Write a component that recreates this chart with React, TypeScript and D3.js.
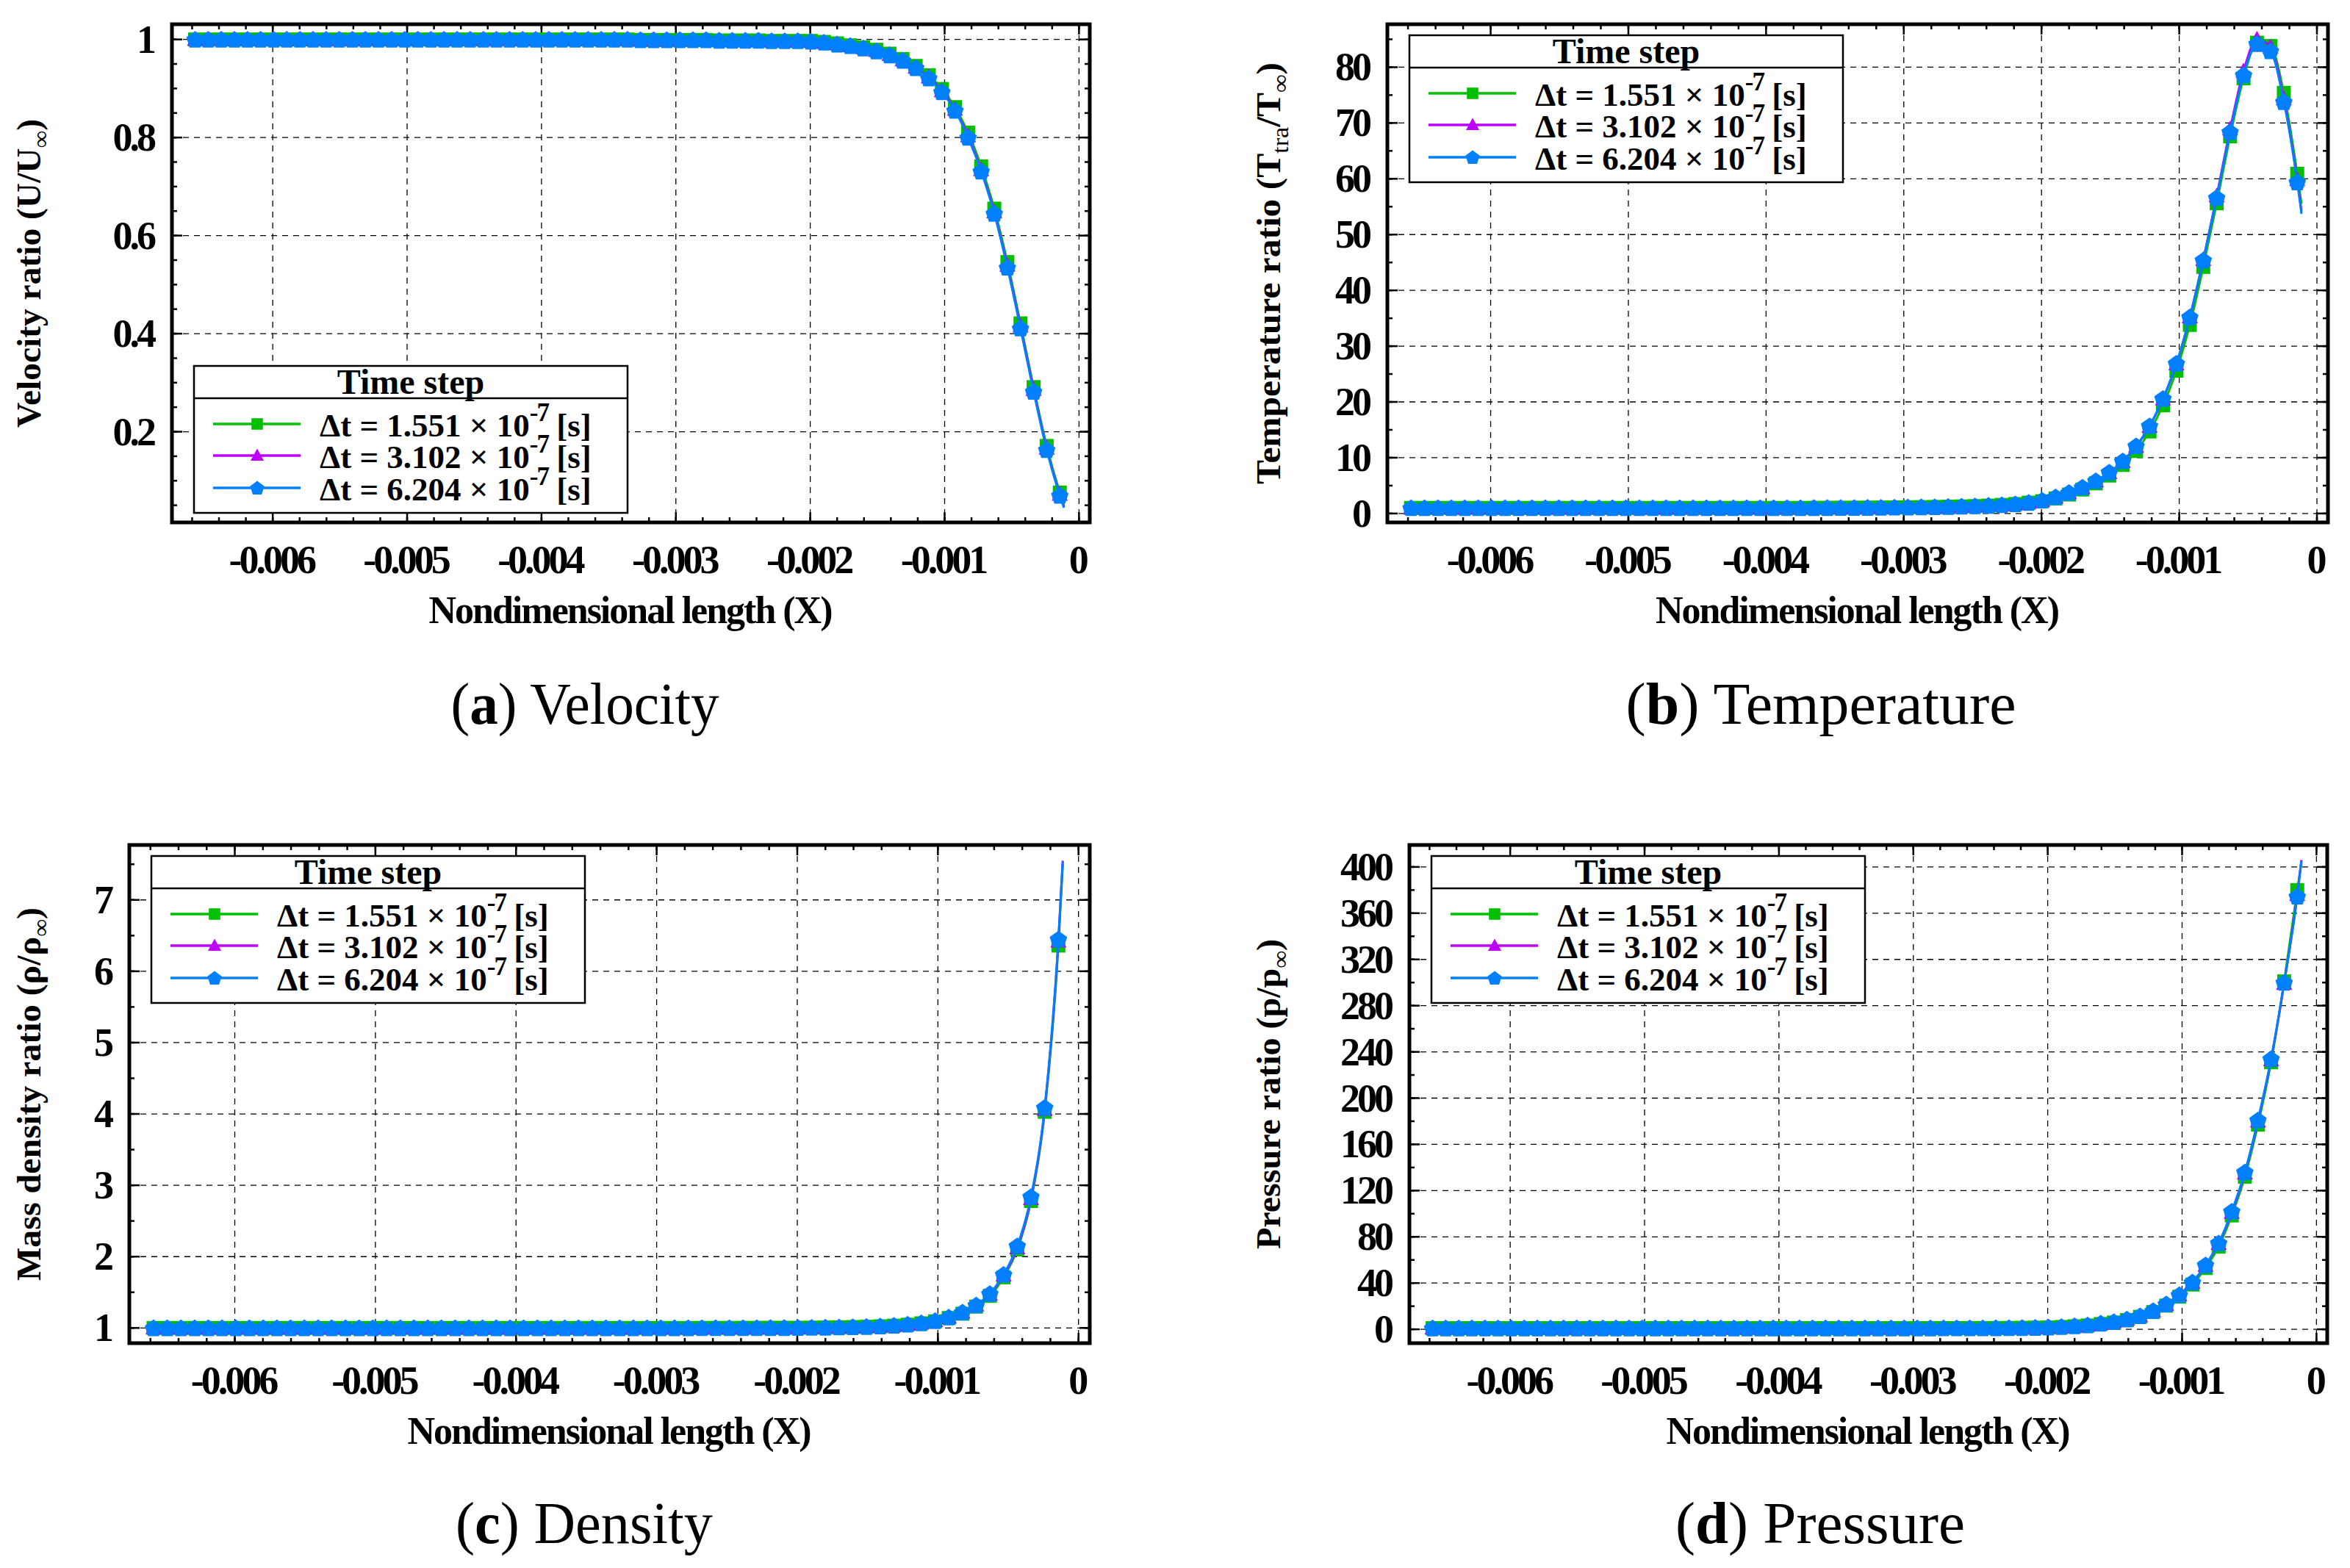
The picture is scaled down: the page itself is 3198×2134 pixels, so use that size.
import * as d3 from "d3";

// x positions of the plotted points (every marker), plus where the line ends
const xGrid = [
  -0.006578, -0.0064805, -0.006383, -0.0062855, -0.006188, -0.0060905, -0.005993, -0.0058955,
  -0.005798, -0.0057005, -0.005603, -0.0055055, -0.005408, -0.0053105, -0.005213, -0.0051155,
  -0.005018, -0.0049205, -0.004823, -0.0047255, -0.004628, -0.0045305, -0.004433, -0.0043355,
  -0.004238, -0.0041405, -0.004043, -0.0039455, -0.003848, -0.0037505, -0.003653, -0.0035555,
  -0.003458, -0.0033605, -0.003263, -0.0031655, -0.003068, -0.0029705, -0.002873, -0.0027755,
  -0.002678, -0.0025805, -0.002483, -0.0023855, -0.002288, -0.0021905, -0.002093, -0.0019955,
  -0.001898, -0.0018005, -0.001703, -0.0016055, -0.001508, -0.0014105, -0.001313, -0.0012155,
  -0.001118, -0.0010205, -0.000923, -0.0008255, -0.000728, -0.0006305, -0.000533, -0.0004355,
  -0.000338, -0.0002405, -0.000143,
];
const lineEndX = -0.000112;

const stepLabels = ["1.551", "3.102", "6.204"];
const stepColors = ["#00c000", "#c000ff", "#0080ff"];
const stepMarkers = ["square", "triangle", "pentagon"];

const xTickValues = [-0.006, -0.005, -0.004, -0.003, -0.002, -0.001, 0];
const xTickLabels = ["-0.006", "-0.005", "-0.004", "-0.003", "-0.002", "-0.001", "0"];

// velocity U/Uinf: flat upstream part (same for all steps) + the shock part per step (last = line end)
const velocityFlat = [
  1.0, 1.0, 1.0, 1.0, 1.0, 1.0, 1.0, 1.0, 1.0, 1.0, 1.0, 1.0, 1.0, 1.0, 1.0, 1.0,
  1.0, 1.0, 1.0, 1.0, 1.0, 1.0, 1.0, 1.0, 1.0, 1.0, 1.0, 1.0, 1.0, 1.0, 1.0, 1.0,
  1.0, 1.0, 0.999, 0.999, 0.999, 0.999, 0.999, 0.999, 0.998, 0.998, 0.998, 0.998, 0.997, 0.997, 0.997,
];
const velocity1551 = [0.997, 0.995, 0.992, 0.988, 0.984, 0.979, 0.971, 0.96, 0.946, 0.927, 0.899, 0.862, 0.81, 0.741, 0.655, 0.546, 0.421, 0.291, 0.171, 0.076, 0.05];
const velocity3102 = [0.996, 0.994, 0.991, 0.987, 0.983, 0.977, 0.969, 0.958, 0.943, 0.923, 0.895, 0.857, 0.803, 0.734, 0.648, 0.539, 0.415, 0.286, 0.166, 0.072, 0.047];
const velocity6204 = [0.996, 0.994, 0.99, 0.987, 0.982, 0.976, 0.968, 0.957, 0.942, 0.921, 0.893, 0.855, 0.8, 0.731, 0.645, 0.535, 0.411, 0.282, 0.163, 0.07, 0.045];

// translational temperature Ttra/Tinf
const temperatureFlat = [
  1.0, 1.0, 1.0, 1.0, 1.0, 1.0, 1.0, 1.0, 1.0, 1.0, 1.0, 1.0, 1.0, 1.0, 1.0, 1.0,
  1.0, 1.0, 1.0, 1.0, 1.0, 1.0, 1.0, 1.0, 1.0, 1.0, 1.0, 1.0, 1.0, 1.0, 1.02, 1.03,
  1.04, 1.05, 1.06, 1.08, 1.1, 1.12, 1.15, 1.18, 1.22, 1.27, 1.33, 1.42, 1.54, 1.7, 1.95,
];
const temperature1551 = [2.2, 2.7, 3.4, 4.3, 5.4, 6.8, 8.7, 11.2, 14.7, 19.4, 25.6, 33.8, 44.2, 55.6, 67.6, 78.0, 84.4, 83.8, 75.4, 60.9, 55.5];
const temperature3102 = [2.3, 2.9, 3.7, 4.6, 5.8, 7.3, 9.3, 12.0, 15.6, 20.5, 26.8, 35.2, 45.5, 56.9, 68.9, 79.3, 85.0, 83.6, 74.3, 59.8, 54.2];
const temperature6204 = [2.35, 2.95, 3.75, 4.7, 5.85, 7.4, 9.4, 12.1, 15.7, 20.6, 26.9, 35.2, 45.4, 56.6, 68.4, 78.6, 84.2, 82.9, 73.8, 59.4, 53.7];

// mass density rho/rhoinf
const densityFlat = [
  1.0, 1.0, 1.0, 1.0, 1.0, 1.0, 1.0, 1.0, 1.0, 1.0, 1.0, 1.0, 1.0, 1.0, 1.0, 1.0,
  1.0, 1.0, 1.0, 1.0, 1.0, 1.0, 1.0, 1.0, 1.0, 1.0, 1.0, 1.0, 1.0, 1.0, 1.0, 1.0,
  1.0, 1.0, 1.0, 1.0, 1.0, 1.0, 1.0, 1.0, 1.001, 1.001, 1.001, 1.002, 1.002, 1.003, 1.003,
];
const density1551 = [1.003, 1.005, 1.007, 1.01, 1.013, 1.017, 1.023, 1.032, 1.046, 1.065, 1.093, 1.14, 1.2, 1.3, 1.45, 1.71, 2.1, 2.78, 4.03, 6.36, 7.5];
const density3102 = [1.004, 1.006, 1.008, 1.011, 1.014, 1.018, 1.025, 1.035, 1.05, 1.07, 1.1, 1.15, 1.22, 1.32, 1.47, 1.74, 2.12, 2.81, 4.06, 6.42, 7.55];
const density6204 = [1.004, 1.006, 1.008, 1.011, 1.014, 1.018, 1.025, 1.035, 1.05, 1.07, 1.1, 1.15, 1.22, 1.32, 1.48, 1.75, 2.15, 2.84, 4.09, 6.45, 7.54];

// pressure p/pinf
const pressureFlat = [
  1.0, 1.0, 1.0, 1.0, 1.0, 1.0, 1.0, 1.0, 1.0, 1.0, 1.0, 1.0, 1.0, 1.0, 1.0, 1.0,
  1.0, 1.0, 1.0, 1.0, 1.0, 1.0, 1.0, 1.0, 1.0, 1.0, 1.0, 1.0, 1.0, 1.0, 1.0, 1.0,
  1.0, 1.0, 1.0, 1.0, 1.0, 1.0, 1.02, 1.03, 1.05, 1.08, 1.1, 1.15, 1.2, 1.3, 1.45,
];
const pressure1551 = [1.6, 2.0, 2.6, 3.3, 4.6, 5.9, 8.0, 10.8, 14.9, 20.5, 28.2, 38.7, 53.0, 71.5, 98.5, 132, 177, 231, 301, 380, 404];
const pressure3102 = [1.8, 2.2, 2.8, 3.6, 5.0, 6.4, 8.6, 11.5, 15.8, 21.6, 29.6, 40.5, 55.3, 74.2, 101, 135, 180, 233, 299, 376, 406];
const pressure6204 = [1.8, 2.2, 2.9, 3.6, 5.1, 6.5, 8.7, 11.6, 16.0, 21.8, 29.8, 40.7, 55.6, 74.5, 102, 136, 181, 234, 300, 374.5, 405];

const velocityTicks = [0.2, 0.4, 0.6, 0.8, 1];
const velocityTickLabels = ["0.2", "0.4", "0.6", "0.8", "1"];
const temperatureTicks = [0, 10, 20, 30, 40, 50, 60, 70, 80];
const densityTicks = [1, 2, 3, 4, 5, 6, 7];
const pressureTicks = [0, 40, 80, 120, 160, 200, 240, 280, 320, 360, 400];

const FONT = "'Liberation Serif', 'Times New Roman', serif";
const xDomain = [-0.00675, 0.00008];

const panels = [
  {
    key: "a",
    frame: { left: 234, right: 1483, top: 33, bottom: 711 },
    yDomain: [0.015, 1.031],
    yTicks: velocityTicks,
    yTickLabels: velocityTickLabels,
    yMinorStep: 0.05,
    yLabel: [["Velocity ratio (U/U"], ["∞", "sub"], [")"]],
    yLabelX: 55,
    yLabelLen: 420,
    series: [velocity1551, velocity3102, velocity6204].map((t) => velocityFlat.concat(t)),
    legendPos: "bottom",
    caption: ["a", "Velocity"],
    captionX: 796,
    captionY: 985,
    captionLen: 365,
  },
  {
    key: "b",
    frame: { left: 1888, right: 3168, top: 33, bottom: 711 },
    yDomain: [-1.6, 87.7],
    yTicks: temperatureTicks,
    yTickLabels: temperatureTicks.map(String),
    yMinorStep: 5,
    yLabel: [["Temperature ratio (T"], ["tra", "sub"], ["/T"], ["∞", "sub"], [")"]],
    yLabelX: 1742,
    yLabelLen: 574,
    series: [temperature1551, temperature3102, temperature6204].map((t) => temperatureFlat.concat(t)),
    legendPos: "top",
    caption: ["b", "Temperature"],
    captionX: 2478,
    captionY: 985,
    captionLen: 531,
  },
  {
    key: "c",
    frame: { left: 176, right: 1483, top: 1150, bottom: 1828 },
    yDomain: [0.787, 7.77],
    yTicks: densityTicks,
    yTickLabels: densityTicks.map(String),
    yMinorStep: 0.5,
    yLabel: [["Mass density ratio (ρ/ρ"], ["∞", "sub"], [")"]],
    yLabelX: 55,
    yLabelLen: 508,
    series: [density1551, density3102, density6204].map((t) => densityFlat.concat(t)),
    legendPos: "top",
    caption: ["c", "Density"],
    captionX: 795,
    captionY: 2100,
    captionLen: 350,
  },
  {
    key: "d",
    frame: { left: 1918, right: 3167, top: 1150, bottom: 1828 },
    yDomain: [-12, 419],
    yTicks: pressureTicks,
    yTickLabels: pressureTicks.map(String),
    yMinorStep: 20,
    yLabel: [["Pressure ratio (p/p"], ["∞", "sub"], [")"]],
    yLabelX: 1742,
    yLabelLen: 422,
    series: [pressure1551, pressure3102, pressure6204].map((t) => pressureFlat.concat(t)),
    legendPos: "top",
    caption: ["d", "Pressure"],
    captionX: 2477,
    captionY: 2100,
    captionLen: 394,
  },
];

function markerPath(kind: string) {
  if (kind === "square") return "M-9.5,-9.5h19v19h-19z";
  if (kind === "triangle") return "M0,-11.5L11,8.5L-11,8.5Z";
  const r = 12.5;
  const pts = d3.range(5).map((i) => {
    const a = -Math.PI / 2 + (i * 2 * Math.PI) / 5;
    return [r * Math.cos(a), r * Math.sin(a) + 1];
  });
  return "M" + pts.map((p) => p.join(",")).join("L") + "Z";
}

function Legend({ left, top }: { left: number; top: number }) {
  const w = 590;
  const rows = [79, 122, 166];
  return (
    <g fontFamily={FONT} fontWeight="bold">
      <rect x={left} y={top} width={w} height={200} fill="#fff" stroke="#000" strokeWidth={2.5} />
      <line x1={left} x2={left + w} y1={top + 44} y2={top + 44} stroke="#000" strokeWidth={2.5} />
      <text x={left + w / 2} y={top + 38} textAnchor="middle" fontSize={48}>
        Time step
      </text>
      {stepLabels.map((lab, i) => (
        <g key={lab}>
          <line
            x1={left + 26}
            x2={left + 145}
            y1={top + rows[i]}
            y2={top + rows[i]}
            stroke={stepColors[i]}
            strokeWidth={3.5}
          />
          <path
            d={markerPath(stepMarkers[i])}
            transform={`translate(${left + 86},${top + rows[i]}) scale(0.82)`}
            fill={stepColors[i]}
          />
          <text x={left + 171} y={top + rows[i] + 17} fontSize={45}>
            <tspan>{`Δt = ${lab} × 10`}</tspan>
            <tspan dy={-21} fontSize={35} letterSpacing={-2}>
              -7
            </tspan>
            <tspan dy={21}> [s]</tspan>
          </text>
        </g>
      ))}
    </g>
  );
}

function Panel({ p }: { p: (typeof panels)[number] }) {
  const { left, right, top, bottom } = p.frame;
  const x = d3.scaleLinear().domain(xDomain).range([left, right]);
  const y = d3.scaleLinear().domain(p.yDomain).range([bottom, top]);
  const allX = xGrid.concat([lineEndX]);
  const line = d3
    .line<number>()
    .x((_, i) => x(allX[i]))
    .y((v) => y(v))
    .curve(d3.curveMonotoneX);

  const xMinor = d3.range(-33, 1).map((k) => k * 0.0002).filter((v) => v >= xDomain[0] && v <= xDomain[1]);
  const yMinor = d3
    .range(Math.ceil(p.yDomain[0] / p.yMinorStep), Math.floor(p.yDomain[1] / p.yMinorStep) + 1)
    .map((k) => k * p.yMinorStep);
  const majorLen = 14;
  const minorLen = 7;
  const cy = (top + bottom) / 2;
  const cx = (left + right) / 2;
  const legendLeft = left + 30;
  const legendTop = p.legendPos === "bottom" ? bottom - 13 - 200 : top + 15;

  return (
    <g>
      {/* grid */}
      <g stroke="#000" strokeWidth={1.3} strokeDasharray="8,7">
        {xTickValues.map((v) => (
          <line key={v} x1={x(v)} x2={x(v)} y1={top} y2={bottom} />
        ))}
        {p.yTicks.map((v) => (
          <line key={v} x1={left} x2={right} y1={y(v)} y2={y(v)} />
        ))}
      </g>
      {/* ticks, mirrored */}
      <g stroke="#000" strokeWidth={2.5}>
        {xMinor.map((v) => (
          <g key={v}>
            <line x1={x(v)} x2={x(v)} y1={bottom} y2={bottom - minorLen} />
            <line x1={x(v)} x2={x(v)} y1={top} y2={top + minorLen} />
          </g>
        ))}
        {xTickValues.map((v) => (
          <g key={v}>
            <line x1={x(v)} x2={x(v)} y1={bottom} y2={bottom - majorLen} />
            <line x1={x(v)} x2={x(v)} y1={top} y2={top + majorLen} />
          </g>
        ))}
        {yMinor.map((v) => (
          <g key={v}>
            <line x1={left} x2={left + minorLen} y1={y(v)} y2={y(v)} />
            <line x1={right} x2={right - minorLen} y1={y(v)} y2={y(v)} />
          </g>
        ))}
        {p.yTicks.map((v) => (
          <g key={v}>
            <line x1={left} x2={left + majorLen} y1={y(v)} y2={y(v)} />
            <line x1={right} x2={right - majorLen} y1={y(v)} y2={y(v)} />
          </g>
        ))}
      </g>
      {/* series */}
      {p.series.map((vals, si) => (
        <g key={si}>
          <path d={line(vals) ?? ""} fill="none" stroke={stepColors[si]} strokeWidth={3} />
          {vals.slice(0, xGrid.length).map((v, i) => (
            <path
              key={i}
              d={markerPath(stepMarkers[si])}
              transform={`translate(${x(xGrid[i])},${y(v)})`}
              fill={stepColors[si]}
            />
          ))}
        </g>
      ))}
      <Legend left={legendLeft} top={legendTop} />
      <rect x={left} y={top} width={right - left} height={bottom - top} fill="none" stroke="#000" strokeWidth={5} />
      {/* tick labels */}
      <g fontFamily={FONT} fontWeight="bold" fontSize={54} letterSpacing={-4}>
        {xTickValues.map((v, i) => (
          <text key={v} x={x(v) - 2} y={bottom + 69} textAnchor="middle">
            {xTickLabels[i]}
          </text>
        ))}
        {p.yTicks.map((v, i) => (
          <text key={v} x={left - 25} y={y(v) + 18} textAnchor="end">
            {p.yTickLabels[i]}
          </text>
        ))}
      </g>
      <g fontFamily={FONT} fontWeight="bold">
        <text x={cx} y={bottom + 137} textAnchor="middle" fontSize={52} textLength={550} lengthAdjust="spacing">
          Nondimensional length (X)
        </text>
        <text
          transform={`translate(${p.yLabelX},${cy}) rotate(-90)`}
          textAnchor="middle"
          fontSize={46}
          textLength={p.yLabelLen}
          lengthAdjust="spacingAndGlyphs"
        >
          {p.yLabel.map(([t, kind], i) =>
            kind === "sub" ? (
              <tspan key={i} fontSize={32} fontWeight="normal" dy={11}>
                {t}
              </tspan>
            ) : (
              <tspan key={i} dy={i > 0 ? -11 : 0}>
                {t}
              </tspan>
            )
          )}
        </text>
      </g>
      <text
        x={p.captionX}
        y={p.captionY}
        textAnchor="middle"
        fontFamily={FONT}
        fontSize={80}
        textLength={p.captionLen}
        lengthAdjust="spacingAndGlyphs"
      >
        (<tspan fontWeight="bold">{p.caption[0]}</tspan>) {p.caption[1]}
      </text>
    </g>
  );
}

export default function App() {
  return (
    <svg
      width={3198}
      height={2134}
      viewBox="0 0 3198 2134"
      style={{ position: "absolute", left: 0, top: 0, background: "#fff" }}
    >
      <rect width={3198} height={2134} fill="#fff" />
      {panels.map((p) => (
        <Panel key={p.key} p={p} />
      ))}
    </svg>
  );
}
